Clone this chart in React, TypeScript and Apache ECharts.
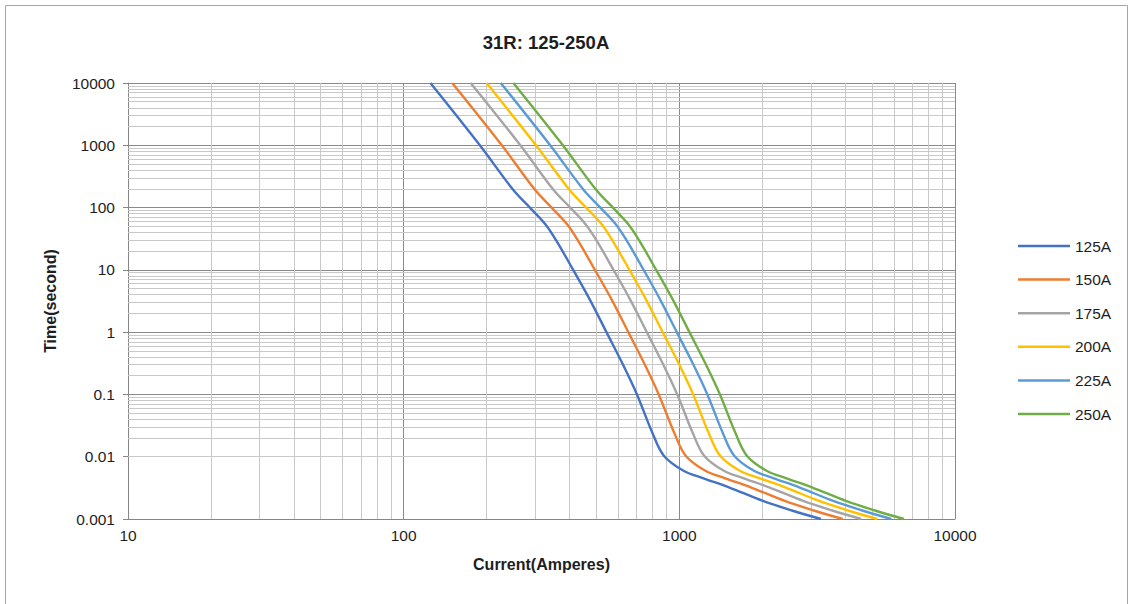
import React, { useEffect, useRef } from "react";
import * as echarts from "echarts";

// ---- data ----
const seriesNames = ["125A", "150A", "175A", "200A", "225A", "250A"];
const seriesColors = ["#4472C4", "#ED7D31", "#A5A5A5", "#FFC000", "#5B9BD5", "#70AD47"];

// clearing time (s) at each read point, shared by all curves
const timePoints = [
  10000, 1000, 191, 100, 54.5, 30, 10, 3.3, 1, 0.3, 0.1, 0.024,
  0.0103, 0.0059, 0.0045, 0.0032, 0.00195, 0.00137, 0.001,
];
// current (A) of each curve at those times
const amps125 = [125, 189, 250, 287, 326, 357, 412, 474, 544, 625, 702, 799, 880, 1040, 1224, 1520, 2010, 2560, 3265];
const amps150 = [150, 227, 300, 344, 391, 428, 494, 569, 653, 750, 842, 959, 1056, 1248, 1469, 1824, 2412, 3072, 3918];
const amps175 = [175, 265, 350, 402, 456, 500, 577, 664, 762, 875, 983, 1119, 1232, 1456, 1714, 2128, 2814, 3584, 4571];
const amps200 = [200, 302, 400, 459, 522, 571, 659, 758, 870, 1000, 1123, 1278, 1408, 1664, 1958, 2432, 3216, 4096, 5224];
const amps225 = [225, 340, 450, 517, 587, 643, 742, 853, 979, 1125, 1264, 1438, 1584, 1872, 2203, 2736, 3618, 4608, 5877];
const amps250 = [250, 378, 500, 574, 652, 714, 824, 948, 1088, 1250, 1404, 1598, 1760, 2080, 2448, 3040, 4020, 5120, 6530];
const ampSeries = [amps125, amps150, amps175, amps200, amps225, amps250];

const xTickLabels = ["10", "100", "1000", "10000"];
const yTickLabels = ["0.001", "0.01", "0.1", "1", "10", "100", "1000", "10000"];

const xMinorGrid = [20, 30, 40, 50, 60, 70, 80, 90, 200, 300, 400, 500, 600, 700, 800, 900,
  2000, 3000, 4000, 5000, 6000, 7000, 8000, 9000];
const yMinorGrid = [
  0.002, 0.003, 0.004, 0.005, 0.006, 0.007, 0.008, 0.009,
  0.02, 0.03, 0.04, 0.05, 0.06, 0.07, 0.08, 0.09,
  0.2, 0.3, 0.4, 0.5, 0.6, 0.7, 0.8, 0.9,
  2, 3, 4, 5, 6, 7, 8, 9,
  20, 30, 40, 50, 60, 70, 80, 90,
  200, 300, 400, 500, 600, 700, 800, 900,
  2000, 3000, 4000, 5000, 6000, 7000, 8000, 9000,
];

const titleText = "31R: 125-250A";
const xName = "Current(Amperes)";
const yName = "Time(second)";

const FONT = "'Liberation Sans', Arial, Helvetica, sans-serif";
const TEXT_COLOR = "#1e1e1e";

export default function App() {
  const ref = useRef<HTMLDivElement>(null);

  useEffect(() => {
    if (!ref.current) return;
    const chart = echarts.init(ref.current, undefined, { renderer: "svg" });

    const labelFrom = (labels: string[], minExp: number) => (v: number) => {
      const k = Math.round(Math.log10(v));
      return labels[k - minExp] ?? "";
    };

    const option: any = {
      animation: false,
      backgroundColor: "#ffffff",
      textStyle: { fontFamily: FONT },
      title: {
        text: titleText,
        left: 541,
        top: 28,
        textAlign: "center",
        textStyle: { fontSize: 18.5, fontWeight: "bold", color: TEXT_COLOR, fontFamily: FONT },
      },
      graphic: [
        {
          type: "rect",
          silent: true,
          z: -10,
          shape: { x: 5.5, y: 5.5, width: 1122, height: 640 },
          style: { fill: "none", stroke: "#a6a6a6", lineWidth: 1 },
        },
      ],
      legend: {
        data: seriesNames,
        orient: "vertical",
        left: 1013,
        top: 233,
        icon: "rect",
        itemWidth: 52,
        itemHeight: 2.5,
        itemGap: 17.6,
        textStyle: { fontSize: 15.5, color: TEXT_COLOR, fontFamily: FONT },
      },
      grid: { left: 128, top: 83, right: 179, bottom: 85, containLabel: false },
      xAxis: {
        type: "log",
        logBase: 10,
        min: 10,
        max: 10000,
        name: xName,
        nameLocation: "middle",
        nameGap: 37,
        nameTextStyle: { fontSize: 16, fontWeight: "bold", color: TEXT_COLOR, fontFamily: FONT },
        axisLine: { show: true, lineStyle: { color: "#868686", width: 1 } },
        axisTick: { show: false },
        axisLabel: {
          fontSize: 15.5,
          color: TEXT_COLOR,
          margin: 8,
          fontFamily: FONT,
          formatter: labelFrom(xTickLabels, 1),
        },
        splitLine: { show: true, lineStyle: { color: "#8a8a8a", width: 1 } },
      },
      yAxis: {
        type: "log",
        logBase: 10,
        min: 0.001,
        max: 10000,
        name: yName,
        nameLocation: "middle",
        nameGap: 70,
        nameRotate: 90,
        nameTextStyle: { fontSize: 16, fontWeight: "bold", color: TEXT_COLOR, fontFamily: FONT },
        axisLine: { show: true, lineStyle: { color: "#868686", width: 1 } },
        axisTick: { show: true, length: 5, inside: false, lineStyle: { color: "#868686" } },
        axisLabel: {
          fontSize: 15.5,
          color: TEXT_COLOR,
          margin: 13,
          fontFamily: FONT,
          formatter: labelFrom(yTickLabels, -3),
        },
        splitLine: { show: true, lineStyle: { color: "#8a8a8a", width: 1 } },
      },
      series: [
        {
          name: "minor-grid",
          type: "line",
          data: [],
          silent: true,
          z: 1,
          markLine: {
            silent: true,
            z: 1,
            animation: false,
            symbol: ["none", "none"],
            label: { show: false },
            emphasis: { disabled: true },
            lineStyle: { color: "#c9c9c9", width: 1, type: "solid" },
            data: [
              ...xMinorGrid.map((v) => ({ xAxis: v })),
              ...yMinorGrid.map((v) => ({ yAxis: v })),
            ],
          },
        },
        ...ampSeries.map((amps, i) => ({
          name: seriesNames[i],
          type: "line",
          data: amps.map((a, k) => [a, timePoints[k]]),
          z: 3,
          symbol: "none",
          showSymbol: false,
          smooth: 0.35,
          color: seriesColors[i],
          itemStyle: { color: seriesColors[i] },
          lineStyle: { color: seriesColors[i], width: 2.4 },
          emphasis: { disabled: true },
        })),
      ],
    };

    chart.setOption(option);
    return () => chart.dispose();
  }, []);

  return (
    <div
      ref={ref}
      style={{ position: "fixed", left: 0, top: 0, width: 1134, height: 604, background: "#fff" }}
    />
  );
}
